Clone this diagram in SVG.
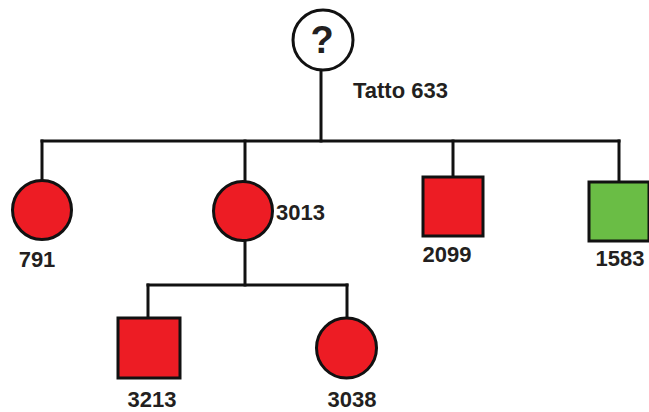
<svg xmlns="http://www.w3.org/2000/svg" width="649" height="412" viewBox="0 0 649 412">
  <style>
    .line { fill: none; stroke: #111; stroke-width: 3; stroke-linecap: square; }
    .red { fill: #ed1c24; stroke: #111; stroke-width: 3; }
    .green { fill: #6abd45; stroke: #111; stroke-width: 3; }
    .unknown { fill: #fff; stroke: #111; stroke-width: 3; }
    .label { font-family: "Liberation Sans", Arial, sans-serif; font-weight: bold; font-size: 22px; fill: #231f20; }
    .mark { font-size: 38px; }
  </style>
  <rect width="649" height="412" fill="#fff"/>

  <g id="connectors">
    <line class="line" x1="321" y1="70" x2="321" y2="141"/>
    <line class="line" x1="42" y1="141" x2="619" y2="141"/>
    <line class="line" x1="42" y1="141" x2="42" y2="181"/>
    <line class="line" x1="245" y1="141" x2="245" y2="182"/>
    <line class="line" x1="453" y1="141" x2="453" y2="177"/>
    <line class="line" x1="619" y1="141" x2="619" y2="182"/>
    <line class="line" x1="245" y1="240" x2="245" y2="285"/>
    <line class="line" x1="148" y1="285" x2="347" y2="285"/>
    <line class="line" x1="148" y1="285" x2="148" y2="318"/>
    <line class="line" x1="347" y1="285" x2="347" y2="318"/>
  </g>

  <g id="tatto633">
    <circle class="unknown" cx="323" cy="40" r="30"/>
    <text class="label mark" x="322" y="53" text-anchor="middle">?</text>
    <text class="label" x="353" y="98">Tatto 633</text>
  </g>

  <g id="n791">
    <circle class="red" cx="42" cy="210" r="29.5"/>
    <text class="label" x="37" y="267" text-anchor="middle">791</text>
  </g>

  <g id="n3013">
    <circle class="red" cx="243" cy="211" r="29.5"/>
    <text class="label" x="276" y="220">3013</text>
  </g>

  <g id="n2099">
    <rect class="red" x="423" y="177" width="60" height="59"/>
    <text class="label" x="447" y="262" text-anchor="middle">2099</text>
  </g>

  <g id="n1583">
    <rect class="green" x="589" y="182" width="60" height="59"/>
    <text class="label" x="620" y="266" text-anchor="middle">1583</text>
  </g>

  <g id="n3213">
    <rect class="red" x="118" y="318" width="62" height="60"/>
    <text class="label" x="152" y="407" text-anchor="middle">3213</text>
  </g>

  <g id="n3038">
    <circle class="red" cx="346.5" cy="348" r="30"/>
    <text class="label" x="352" y="407" text-anchor="middle">3038</text>
  </g>
</svg>
